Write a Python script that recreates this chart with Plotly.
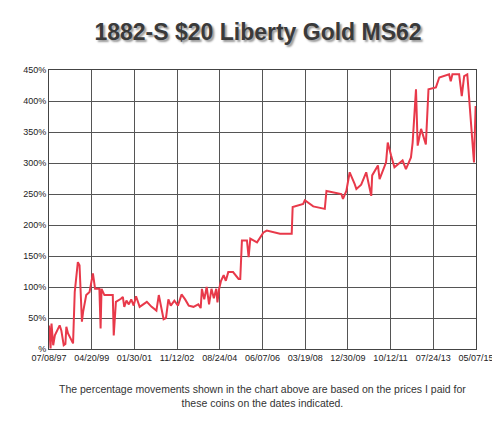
import plotly.graph_objects as go
import pandas as pd

years = [1997.52,1997.58,1997.62,1997.69,1997.76,1997.96,1998.03,1998.13,1998.20,1998.24,1998.31,1998.52,1998.59,1998.72,1998.79,1998.89,1998.94,1999.07,1999.21,1999.35,1999.44,1999.62,1999.67,1999.69,1999.71,1999.83,1999.97,2000.18,2000.22,2000.31,2000.52,2000.6,2000.66,2000.75,2000.85,2000.95,2001.05,2001.15,2001.3,2001.45,2001.6,2001.8,2002.0,2002.1,2002.3,2002.4,2002.5,2002.6,2002.75,2002.9,2003.05,2003.2,2003.35,2003.55,2003.75,2003.85,2003.9,2004.0,2004.1,2004.2,2004.3,2004.4,2004.5,2004.55,2004.62,2004.7,2004.81,2004.9,2005.0,2005.2,2005.43,2005.5,2005.57,2005.78,2005.85,2005.92,2006.2,2006.47,2006.61,2007.16,2007.65,2007.69,2008.13,2008.2,2008.55,2009.03,2009.1,2009.72,2009.79,2009.93,2010.07,2010.28,2010.35,2010.55,2010.76,2010.97,2011.01,2011.25,2011.32,2011.59,2011.66,2011.8,2011.94,2012.28,2012.42,2012.63,2012.7,2012.84,2012.91,2013.05,2013.25,2013.36,2013.67,2013.81,2014.22,2014.29,2014.36,2014.64,2014.75,2014.85,2014.98,2015.03,2015.26,2015.33]
pct = [38,1,41,6,22,38,30,6,8,36,25,9,92,140,135,44,60,87,92,122,97,97,33,97,97,87,87,87,22,76,81,84,68,78,72,80,70,85,68,72,76,68,62,87,48,50,80,70,78,70,88,80,70,68,72,66,97,80,100,72,97,82,97,75,97,110,119,110,124,124,113,113,175,175,148,178,172,188,191,186,186,229,234,240,230,226,255,250,242,255,285,266,258,265,285,247,280,296,274,301,333,312,293,304,290,309,333,419,328,355,330,419,422,438,443,432,443,443,408,440,443,419,301,392]

tick_labels = ["07/08/97","04/20/99","01/30/01","11/12/02","08/24/04","06/07/06","03/19/08","12/30/09","10/12/11","07/24/13","05/07/15"]
tick_dates = pd.to_datetime(tick_labels, format="%m/%d/%y")

def to_date(y):
    yr = int(y)
    return pd.Timestamp(yr, 1, 1) + pd.Timedelta(days=(y - yr) * 365.25)

dates = [to_date(y) for y in years]

fig = go.Figure(go.Scatter(x=dates, y=pct, mode="lines",
                           line=dict(color="#e8394a", width=2), hoverinfo="skip"))

tickfont = dict(family="Liberation Sans", size=9, color="#222")
fig.update_layout(
    width=500, height=427, margin=dict(l=41, r=32, t=62, b=86, autoexpand=False),
    paper_bgcolor="white", plot_bgcolor="white", showlegend=False,
    title=dict(text="<b>1882-S $20 Liberty Gold MS62</b>", x=0.5, xanchor="center",
               y=0.945, yanchor="middle",
               font=dict(family="Liberation Sans", size=23, color="#3a3a3a", shadow="2px 2px 2px #999")),
    xaxis=dict(range=[tick_dates[0], tick_dates[-1]], tickvals=tick_dates, ticktext=tick_labels,
               showgrid=True, gridcolor="#555", gridwidth=1, showline=True, linecolor="#444", mirror=True,
               tickfont=tickfont, ticks=""),
    yaxis=dict(range=[0, 450], tickvals=list(range(0, 451, 50)),
               ticktext=["%"] + [f"{v}%" for v in range(50, 451, 50)],
               showgrid=True, gridcolor="#555", gridwidth=1, showline=True, linecolor="#444", mirror=True,
               zeroline=False, tickfont=tickfont, ticks=""),
    annotations=[dict(text="The percentage movements shown in the chart above are based on the prices I paid for<br>these coins on the dates indicated.",
                      x=0.5, xref="paper", y=-0.17, yref="paper", yanchor="middle", showarrow=False,
                      font=dict(family="Liberation Sans", size=10.5, color="#333"), align="center")]
)
fig.write_html("out.html")
